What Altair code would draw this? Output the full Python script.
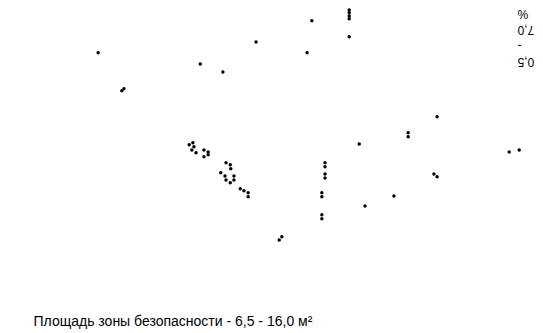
import altair as alt
import pandas as pd

# Площадь зоны безопасности (м²) и значение (%)
area = [7.89, 8.34, 8.38, 9.83, 10.26, 10.89, 11.86, 11.95,
        12.66, 12.66, 12.66, 12.66, 12.66,
        14.33, 13.78, 13.78, 12.85, 15.70, 15.89,
        12.20, 12.20, 12.20, 12.20, 14.27, 14.33,
        12.14, 12.14, 13.51, 12.96, 12.14, 12.14, 11.33, 11.38,
        9.62, 9.69, 9.71, 9.67, 9.75, 9.90, 9.98, 9.98, 9.90,
        10.32, 10.40, 10.41, 10.22, 10.30, 10.32, 10.40, 10.47, 10.47,
        10.59, 10.66, 10.74, 10.74]
share = [5.88, 4.93, 4.98, 5.60, 5.40, 6.15, 5.88, 6.68,
         6.95, 6.88, 6.80, 6.73, 6.28,
         4.28, 3.88, 3.78, 3.60, 3.40, 3.45,
         3.13, 3.03, 2.85, 2.75, 2.85, 2.78,
         2.38, 2.28, 2.30, 2.05, 1.83, 1.73, 1.20, 1.28,
         3.58, 3.63, 3.53, 3.45, 3.38, 3.45, 3.40, 3.33, 3.28,
         3.13, 3.08, 2.98, 2.88, 2.80, 2.70, 2.63, 2.70, 2.80,
         2.48, 2.43, 2.38, 2.28]

x_title = "Площадь зоны безопасности - 6,5 - 16,0 м²"
y_title = ["0,5", "-", "7,0", "%"]

df = pd.DataFrame({"area": area, "share": share})

chart = alt.Chart(df).mark_circle(size=12, color="black", opacity=1).encode(
    x=alt.X("area:Q",
            scale=alt.Scale(domain=[6.5, 16.0], nice=False, zero=False),
            axis=alt.Axis(title=x_title, labels=False, ticks=False, domain=False,
                          grid=False, titleX=8, titleY=57, titleAlign="left",
                          titleBaseline="alphabetic", titleFont="Liberation Sans",
                          titleFontSize=14, titleFontWeight="normal",
                          titleColor="black")),
    y=alt.Y("share:Q",
            scale=alt.Scale(domain=[0.5, 7.0], nice=False, zero=False),
            axis=alt.Axis(title=y_title, orient="right", labels=False, ticks=False,
                          domain=False, grid=False, titleAngle=180, titleX=-8,
                          titleY=58, titleAlign="right", titleBaseline="top",
                          titleFont="Liberation Sans", titleFontSize=12,
                          titleFontWeight="normal", titleColor="black",
                          titleLineHeight=16)),
).properties(
    width=500, height=260,
    autosize="none",
    padding={"left": 17, "top": 0, "right": 10, "bottom": 65},
).configure_view(stroke=None)

chart.save("out.html", embed_options={"renderer": "svg", "actions": False})
